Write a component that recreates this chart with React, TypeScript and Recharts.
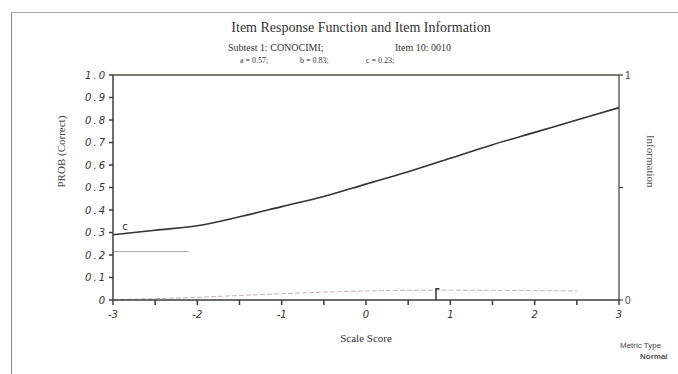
import { ComposedChart, Line, XAxis, YAxis, ReferenceLine, ReferenceDot } from 'recharts'

// item response function
const theta = [-3, -2.5, -2, -1.5, -1, -0.5, 0, 0.5, 1, 1.5, 2, 2.5, 3]
const probCorrect = [0.29, 0.31, 0.33, 0.37, 0.415, 0.46, 0.515, 0.57, 0.63, 0.69, 0.745, 0.8, 0.855]
const information = [0.002, 0.006, 0.012, 0.02, 0.028, 0.035, 0.04, 0.043, 0.044, 0.043, 0.042, 0.04, null]

// c asymptote marker and b location marker
const cMarkX = [-3, -2.1]
const cMarkY = [0.215, 0.215]
const bMarkX = [0.83, 0.83, 0.87]
const bMarkY = [0, 0.05, 0.05]

const xTicks = [-3, -2.5, -2, -1.5, -1, -0.5, 0, 0.5, 1, 1.5, 2, 2.5, 3]
const yTicks = [0, 0.1, 0.2, 0.3, 0.4, 0.5, 0.6, 0.7, 0.8, 0.9, 1]
const infoTicks = [0, 0.5, 1]

const data = theta.map((t, i) => ({ theta: t, prob: probCorrect[i], info: information[i] }))
const cData = cMarkX.map((x, i) => ({ theta: x, c: cMarkY[i] }))
const bData = bMarkX.map((x, i) => ({ theta: x, b: bMarkY[i] }))

const AXIS = '#3c3c3c'
const tickFont = { fontSize: 10, fontStyle: 'italic', fill: '#333', fontFamily: 'DejaVu Sans' }

export default function App() {
    return (
        <div style={{ position: 'absolute', left: 0, top: 0, width: 678, height: 374, background: '#fff', overflow: 'hidden' }}>
            <div style={{ position: 'absolute', left: 11, top: 12, width: 680, height: 380, borderLeft: '1.5px solid #888', borderTop: '1.5px solid #aaa' }} />
            <div style={{ position: 'absolute', left: 0, width: 722, top: 20, textAlign: 'center', fontFamily: 'Liberation Serif', fontSize: 14, color: '#333' }}>
                Item Response Function and Item Information
            </div>
            <div style={{ position: 'absolute', left: 228, top: 42, fontFamily: 'Liberation Serif', fontSize: 10, color: '#333', whiteSpace: 'pre' }}>
                Subtest 1: CONOCIMI;
            </div>
            <div style={{ position: 'absolute', left: 395, top: 42, fontFamily: 'Liberation Serif', fontSize: 10, color: '#333', whiteSpace: 'pre' }}>
                Item 10: 0010
            </div>
            <div style={{ position: 'absolute', left: 240, top: 56, fontFamily: 'Liberation Serif', fontSize: 8, color: '#333', whiteSpace: 'pre' }}>
                a = 0.57;
            </div>
            <div style={{ position: 'absolute', left: 300, top: 56, fontFamily: 'Liberation Serif', fontSize: 8, color: '#333', whiteSpace: 'pre' }}>
                b = 0.83;
            </div>
            <div style={{ position: 'absolute', left: 366, top: 56, fontFamily: 'Liberation Serif', fontSize: 8, color: '#333', whiteSpace: 'pre' }}>
                c = 0.23;
            </div>
            <div style={{ position: 'absolute', left: 620, top: 341, fontFamily: 'Liberation Sans', fontSize: 8, color: '#444' }}>Metric Type</div>
            <div style={{ position: 'absolute', left: 640, top: 352, fontFamily: 'Liberation Sans', fontSize: 8, fontWeight: 'bold', color: '#555' }}>Normal</div>

            <div style={{ position: 'absolute', left: 0, top: 0 }}>
                <ComposedChart width={678} height={374} data={data} margin={{ top: 75, left: 73, right: 29, bottom: 44 }}>
                    <XAxis
                        dataKey="theta"
                        type="number"
                        domain={[-3, 3]}
                        ticks={xTicks}
                        interval={0}
                        tickFormatter={(v: number) => (Number.isInteger(v) ? String(v) : '')}
                        tick={{ ...tickFont, dy: 4 }}
                        tickSize={5}
                        stroke={AXIS}
                        strokeWidth={1.5}
                        height={30}
                        label={{ value: 'Scale Score', position: 'insideBottom', offset: -12, fontSize: 11, fontFamily: 'Liberation Serif', fill: '#333' }}
                    />
                    <YAxis
                        yAxisId="left"
                        domain={[0, 1]}
                        ticks={yTicks}
                        interval={0}
                        tickFormatter={(v: number) => (v === 0 ? '0' : v.toFixed(1))}
                        tick={{ ...tickFont, letterSpacing: 2 }}
                        tickSize={4}
                        stroke={AXIS}
                        strokeWidth={1.5}
                        width={40}
                        label={{ value: 'PROB (Correct)', angle: -90, position: 'insideLeft', offset: -12, fontSize: 11, fontFamily: 'Liberation Serif', fill: '#444' }}
                    />
                    <YAxis
                        yAxisId="info"
                        orientation="right"
                        domain={[0, 1]}
                        ticks={infoTicks}
                        interval={0}
                        tickFormatter={(v: number) => (v === 0.5 ? '' : String(v))}
                        tick={{ fontSize: 10, fill: '#444', fontFamily: 'Liberation Sans' }}
                        tickSize={4}
                        stroke={AXIS}
                        strokeWidth={1.2}
                        width={30}
                        label={{ value: 'Information', angle: 90, position: 'insideRight', offset: -2, fontSize: 11, fontFamily: 'Liberation Serif', fill: '#555' }}
                    />
                    <ReferenceLine yAxisId="left" y={1} stroke="#4a4f40" strokeWidth={1.5} />
                    <Line
                        yAxisId="info"
                        dataKey="info"
                        type="monotone"
                        stroke="#c4b4bc"
                        strokeWidth={1}
                        strokeDasharray="5 2"
                        dot={false}
                        isAnimationActive={false}
                    />
                    <Line
                        yAxisId="left"
                        data={cData}
                        dataKey="c"
                        stroke="#aaa"
                        strokeWidth={1}
                        dot={false}
                        isAnimationActive={false}
                    />
                    <Line
                        yAxisId="left"
                        data={bData}
                        dataKey="b"
                        type="linear"
                        stroke="#333"
                        strokeWidth={1.5}
                        dot={false}
                        isAnimationActive={false}
                    />
                    <Line
                        yAxisId="left"
                        dataKey="prob"
                        type="monotone"
                        stroke="#333"
                        strokeWidth={1.6}
                        dot={false}
                        isAnimationActive={false}
                    />
                    <ReferenceDot
                        yAxisId="left"
                        x={-2.95}
                        y={0.3}
                        r={0}
                        label={{ value: 'c', position: 'right', fontSize: 10, fill: '#333', fontFamily: 'DejaVu Sans', dy: -6 }}
                    />
                </ComposedChart>
            </div>
        </div>
    )
}
